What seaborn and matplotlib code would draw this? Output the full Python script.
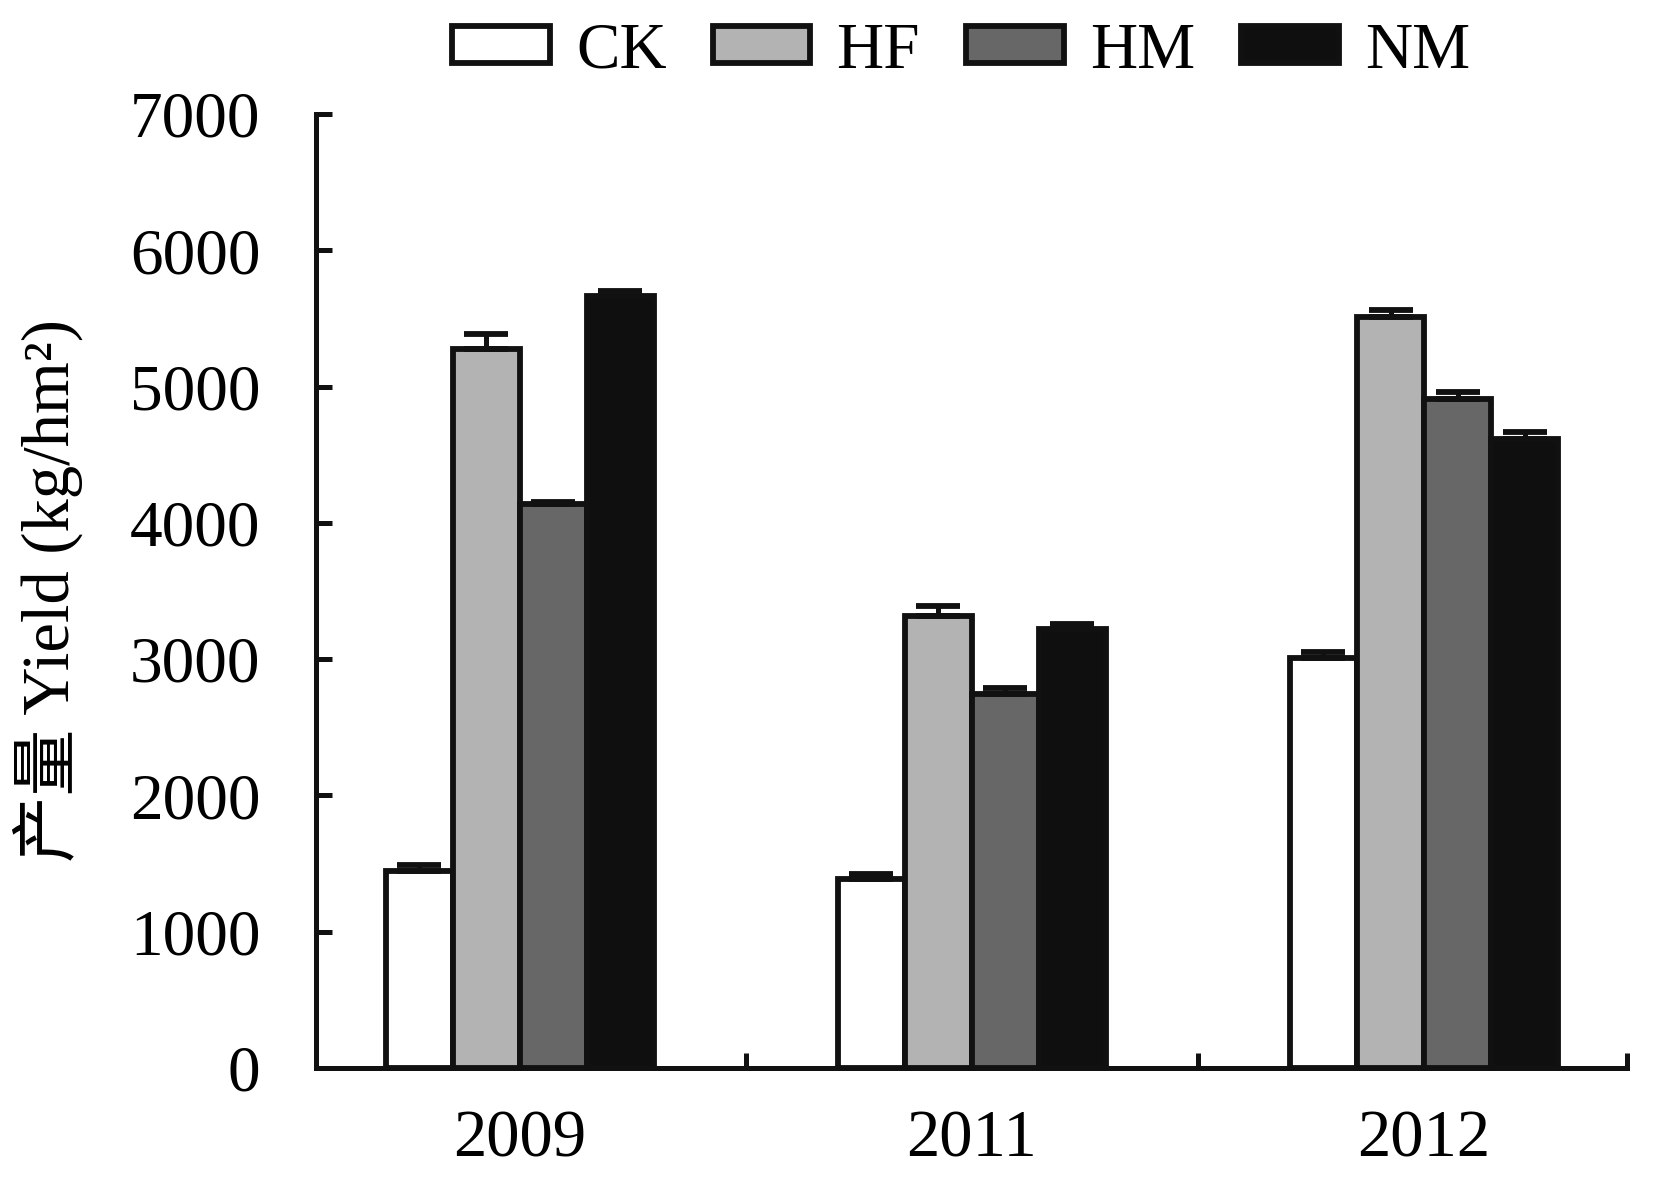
import matplotlib
matplotlib.use("Agg")
import matplotlib.pyplot as plt
import seaborn as sns
import pandas as pd
import numpy as np

years = ["2009", "2011", "2012"]
treatments = ["CK", "HF", "HM", "NM"]
ck = [1446, 1384, 3008]
hf = [5273, 3315, 5510]
hm = [4140, 2742, 4908]
nm = [5664, 3223, 4615]
ck_err = [40, 40, 45]
hf_err = [110, 75, 50]
hm_err = [15, 45, 50]
nm_err = [40, 35, 50]
yticks = [0, 1000, 2000, 3000, 4000, 5000, 6000, 7000]

colors = ["#ffffff", "#b3b3b3", "#676767", "#0f0f0f"]
edge = "#111111"

sns.set_style("ticks")
plt.rcParams["font.family"] = ["Liberation Serif", "Noto Sans CJK SC"]
plt.rcParams["text.color"] = "black"
plt.rcParams["axes.labelcolor"] = "black"
plt.rcParams["xtick.color"] = "black"
plt.rcParams["ytick.color"] = "black"

vals = {"CK": ck, "HF": hf, "HM": hm, "NM": nm}
errs = {"CK": ck_err, "HF": hf_err, "HM": hm_err, "NM": nm_err}
rows = []
for t in treatments:
    for i, y in enumerate(years):
        rows.append({"year": y, "trt": t, "yield": vals[t][i], "err": errs[t][i]})
df = pd.DataFrame(rows)

fig = plt.figure(figsize=(16.54, 11.80), dpi=100)
W, H = 1654, 1180
ax = fig.add_axes([316 / W, 1 - 1068 / H, (1627 - 316) / W, (1068 - 114) / H])

sns.barplot(data=df, x="year", y="yield", hue="trt", order=years, hue_order=treatments,
            palette=colors, errorbar=None, width=0.593, edgecolor=edge, linewidth=4.2,
            saturation=1, ax=ax, zorder=2)

for cont, t in zip(ax.containers, treatments):
    xs = [p.get_x() + p.get_width() / 2 for p in cont]
    ys = vals[t]
    e = errs[t]
    ax.errorbar(xs, ys, yerr=[np.zeros(len(e)), e], fmt="none", ecolor=edge,
                elinewidth=3.6, capsize=15.5, capthick=4.2, zorder=3)

handles, labels = ax.get_legend_handles_labels()
if ax.get_legend() is not None:
    ax.get_legend().remove()

ax.set_xlim(-0.451, 2.449)
ax.set_ylim(0, 7000)
ax.set_yticks(yticks)
ax.set_yticklabels([str(v) for v in yticks])
ax.set_xticks([0, 1, 2])
ax.set_xticklabels(years)
ax.set_xticks([0.5, 1.5, 2.449], minor=True)
ax.tick_params(axis="x", which="major", length=0, pad=30, labelsize=48, labelcolor="black")
ax.tick_params(axis="x", which="minor", length=11, width=3.6, direction="in", color=edge)
ax.tick_params(axis="y", which="major", length=11.5, width=3.6, direction="in", pad=40,
               labelsize=47, color=edge, labelcolor="black")
for s in ["top", "right"]:
    ax.spines[s].set_visible(False)
for s in ["left", "bottom"]:
    ax.spines[s].set_linewidth(3.6)
    ax.spines[s].set_color(edge)
ax.set_xlabel("")
ax.set_ylabel("产量 Yield (kg/hm²)", fontsize=48, color="black")
ax.yaxis.set_label_coords(-0.178, 0.5)

fig.legend(handles, labels, loc="center", bbox_to_anchor=(961 / W, 1 - 52 / H), ncol=4,
           frameon=False, fontsize=47, handlelength=1.5, handleheight=0.48,
           handletextpad=0.4, columnspacing=0.7)

fig.savefig("out.png", dpi=100)
